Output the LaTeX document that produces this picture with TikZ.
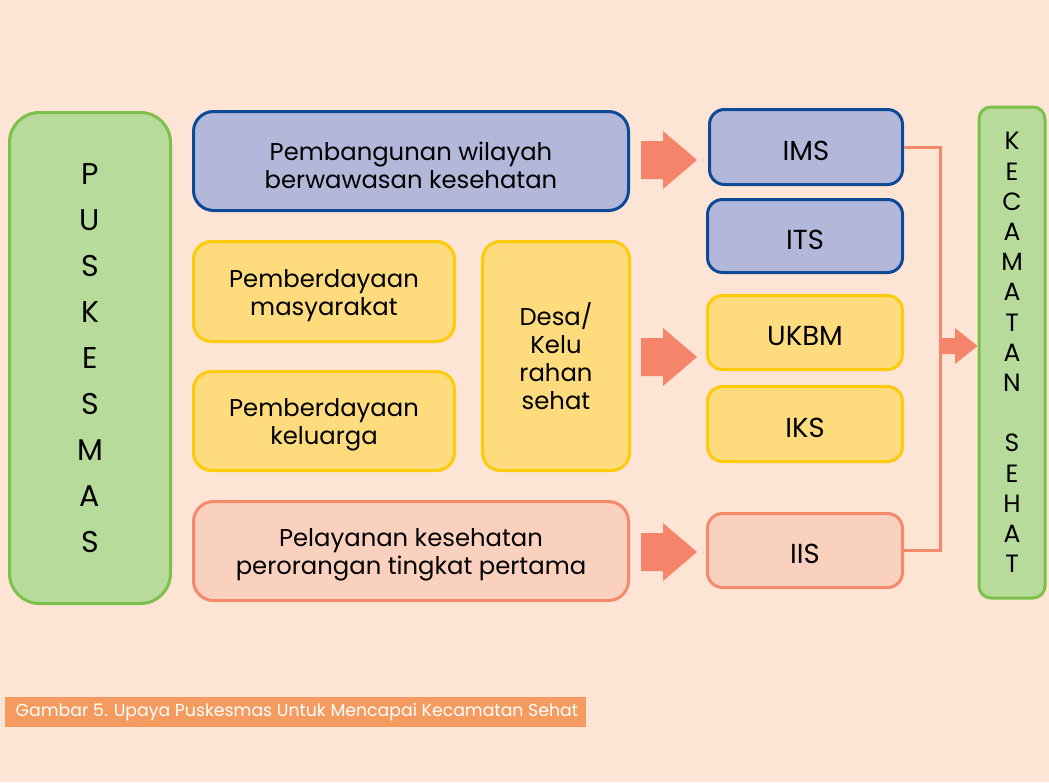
\documentclass[tikz,border=0pt]{standalone}
\usepackage{fontspec}
\setmainfont{Poppins}
\begin{document}
\begin{tikzpicture}[x=1pt,y=-1pt]
\definecolor{bgpeach}{HTML}{FDE4D4}
\definecolor{grfill}{HTML}{B7DB9A}
\definecolor{grline}{HTML}{7BC04A}
\definecolor{blfill}{HTML}{B3B8DA}
\definecolor{blline}{HTML}{0C4A97}
\definecolor{ylfill}{HTML}{FEDB7D}
\definecolor{ylline}{HTML}{FECB0A}
\definecolor{pkfill}{HTML}{FAD0BF}
\definecolor{pkline}{HTML}{F4896B}
\definecolor{arrowc}{HTML}{F4856A}
\definecolor{capfill}{HTML}{F69B5F}
\tikzset{
  box/.style={rectangle, line width=3pt, align=center, inner sep=0pt, text=black},
  bluebox/.style={box, fill=blfill, draw=blline},
  yellowbox/.style={box, fill=ylfill, draw=ylline},
  pinkbox/.style={box, fill=pkfill, draw=pkline},
  greenbox/.style={box, fill=grfill, draw=grline},
  bigtext/.style={align=center, inner sep=0pt, font=\fontsize{24.3}{28}\selectfont},
  smalltext/.style={align=center, inner sep=0pt, font=\fontsize{27.5}{30}\selectfont},
  blockarrow/.style={fill=arrowc, draw=none},
}
\useasboundingbox (0,0) rectangle (1049,782);
\fill[bgpeach] (0,0) rectangle (1049,782);

% left column
\node[greenbox, rounded corners=30pt, minimum width=161pt, minimum height=491pt,
      font=\fontsize{30}{46}\selectfont] (pusk) at (90,358)
  {P\\U\\S\\K\\E\\S\\M\\A\\S};

% programme boxes
\node[bluebox, rounded corners=20pt, minimum width=435pt, minimum height=99pt] (wil) at (411,161) {};
\node[yellowbox, rounded corners=18pt, minimum width=261pt, minimum height=100pt] (masy) at (324,291.5) {};
\node[yellowbox, rounded corners=18pt, minimum width=261pt, minimum height=99pt] (kel) at (324,421) {};
\node[yellowbox, rounded corners=18pt, minimum width=147pt, minimum height=229pt,
      font=\fontsize{24.3}{28}\selectfont] (desa) at (556,356) {Desa/\\Kelu\\rahan\\sehat};
\node[pinkbox, rounded corners=20pt, minimum width=435pt, minimum height=99pt] (pel) at (411,551) {};

\node[bigtext] (wiltxt) at ([yshift=-4pt]wil.center) {Pembangunan wilayah\\berwawasan kesehatan};
\node[bigtext] (masytxt) at ([yshift=-4pt]masy.center) {Pemberdayaan\\masyarakat};
\node[bigtext] (keltxt) at ([yshift=-4pt]kel.center) {Pemberdayaan\\keluarga};
\node[bigtext] (peltxt) at ([yshift=-4pt]pel.center) {Pelayanan kesehatan\\perorangan tingkat pertama};

% indicator boxes
\node[bluebox, rounded corners=15pt, minimum width=193pt, minimum height=75pt] (ims) at (806,147) {};
\node[bluebox, rounded corners=15pt, minimum width=195pt, minimum height=73pt] (its) at (805,236) {};
\node[yellowbox, rounded corners=15pt, minimum width=195pt, minimum height=74pt] (ukbm) at (805,332.5) {};
\node[yellowbox, rounded corners=15pt, minimum width=195pt, minimum height=75pt] (iks) at (805,424) {};
\node[pinkbox, rounded corners=15pt, minimum width=195pt, minimum height=74pt] (iis) at (805,550.5) {};

\node[smalltext] (imstxt) at ([yshift=-3.5pt]ims.center) {IMS};
\node[smalltext] (itstxt) at ([yshift=-3.5pt]its.center) {ITS};
\node[smalltext] (ukbmtxt) at ([yshift=-3.5pt]ukbm.center) {UKBM};
\node[smalltext] (ikstxt) at ([yshift=-3.5pt]iks.center) {IKS};
\node[smalltext] (iistxt) at ([yshift=-3.5pt]iis.center) {IIS};

% right column
\node[greenbox, rounded corners=12pt, minimum width=66pt, minimum height=491pt,
      font=\fontsize{25}{30.2}\selectfont] (kec) at (1012,352.5)
  {K\\E\\C\\A\\M\\A\\T\\A\\N\\\mbox{}\\S\\E\\H\\A\\T};

% block arrows
\foreach \yc in {160,357,552}{
  \fill[blockarrow] (641,\yc-19) -- (663,\yc-19) -- (663,\yc-29) -- (697,\yc)
    -- (663,\yc+29) -- (663,\yc+19) -- (641,\yc+19) -- cycle;
}

% collector line
\coordinate (bend) at (940,346);
\draw[pkline, line width=3pt] (ims.east) -- (ims.east -| bend) -- (iis.east -| bend) -- (iis.east);
\fill[blockarrow] (940,338) -- (955,338) -- (955,328) -- (kec.west |- bend)
  -- (955,364) -- (955,354) -- (940,354) -- cycle;

% caption
\node[fill=capfill, minimum width=581pt, minimum height=30pt, inner sep=0pt,
      anchor=north west] (cap) at (5,697) {};
\node[text=white, font=\fontsize{17.3}{20}\selectfont, anchor=west, inner sep=0pt]
  (captext) at (15.5,712.5) {Gambar 5. Upaya Puskesmas Untuk Mencapai Kecamatan Sehat};
\end{tikzpicture}
\end{document}
